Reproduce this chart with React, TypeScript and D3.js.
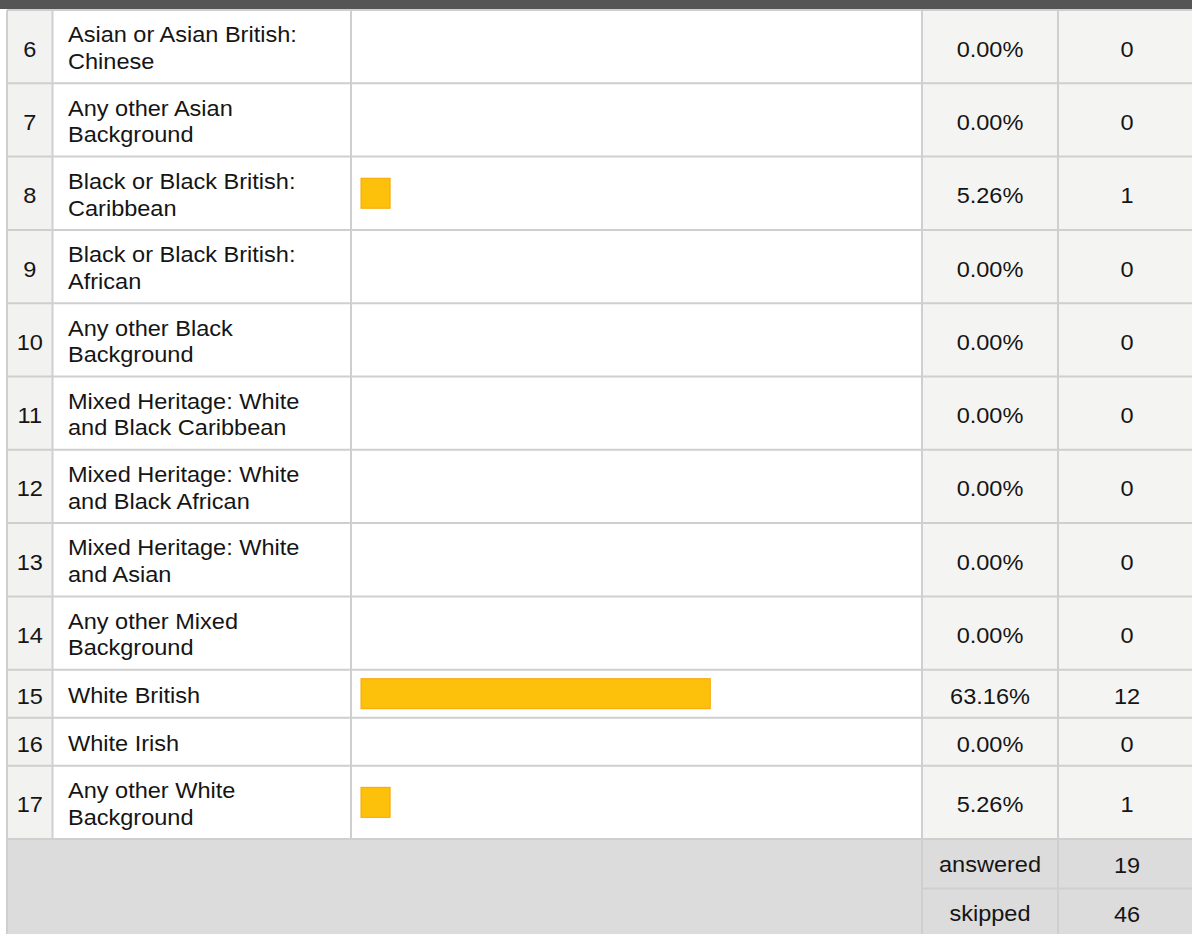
import React from "react";
import * as d3 from "d3";

const rowNumbers = [6, 7, 8, 9, 10, 11, 12, 13, 14, 15, 16, 17];
const labels = [
  ["Asian or Asian British:", "Chinese"],
  ["Any other Asian", "Background"],
  ["Black or Black British:", "Caribbean"],
  ["Black or Black British:", "African"],
  ["Any other Black", "Background"],
  ["Mixed Heritage: White", "and Black Caribbean"],
  ["Mixed Heritage: White", "and Black African"],
  ["Mixed Heritage: White", "and Asian"],
  ["Any other Mixed", "Background"],
  ["White British"],
  ["White Irish"],
  ["Any other White", "Background"],
];
const percents = [0, 0, 5.26, 0, 0, 0, 0, 0, 0, 63.16, 0, 5.26];
const counts = [0, 0, 1, 0, 0, 0, 0, 0, 0, 12, 0, 1];
const footerLabels = ["answered", "skipped"];
const footerValues = [19, 46];

const W = 1192;
const H = 934;
const colX = [7, 52.5, 351, 922, 1058, 1197];
const TOP = 10;
const FONT = "'Liberation Sans', Arial, Helvetica, sans-serif";
const SX = 1.07;
const FS = 22;
const GRID = "#cfcfcf";
const TEXT = "#151515";

export default function App() {
  const heights = labels.map((l) => (l.length > 1 ? 73.3 : 48));
  const tops: number[] = [];
  let acc = TOP;
  heights.forEach((h) => {
    tops.push(acc);
    acc += h;
  });
  const tableBottom = acc;
  const footH = 49.5;

  const x = d3.scaleLinear().domain([0, 100]).range([colX[2] + 10, colX[3] - 8]);
  const fmt = d3.format(".2f");

  const T = (
    tx: number,
    ty: number,
    s: string,
    anchor: "start" | "middle" = "middle",
    key?: string
  ) => (
    <text
      key={key}
      transform={`translate(${tx},${ty}) scale(${SX},1)`}
      textAnchor={anchor}
      fontFamily={FONT}
      fontSize={FS}
      fill={TEXT}
    >
      {s}
    </text>
  );

  return (
    <svg
      width={W}
      height={H}
      style={{ position: "absolute", left: 0, top: 0, display: "block" }}
    >
      <rect x={0} y={0} width={W} height={H} fill="#ffffff" />
      {/* column backgrounds */}
      <rect x={colX[0]} y={TOP} width={colX[1] - colX[0]} height={tableBottom - TOP} fill="#f2f2f0" />
      <rect x={colX[3]} y={TOP} width={W - colX[3]} height={tableBottom - TOP} fill="#f4f4f2" />
      {/* footer */}
      <rect x={colX[0]} y={tableBottom} width={W - colX[0]} height={H - tableBottom} fill="#dcdcdc" />
      {/* header dark band */}
      <rect x={0} y={0} width={W} height={9} fill="#555555" />
      <line x1={colX[0]} x2={W} y1={TOP} y2={TOP} stroke={GRID} strokeWidth={2} />

      {/* rows */}
      {rowNumbers.map((n, i) => {
        const y0 = tops[i];
        const h = heights[i];
        const cy = y0 + h / 2;
        const lines = labels[i];
        const lh = 26.6;
        return (
          <g key={n}>
            {T((colX[0] + colX[1]) / 2, cy + 10, String(n), "middle")}
            {lines.map((s, j) =>
              T(colX[1] + 15.5, cy + 9 + (j - (lines.length - 1) / 2) * lh, s, "start", `l${j}`)
            )}
            {percents[i] > 0 && (
              <rect
                x={x(0)}
                y={cy - 15}
                width={x(percents[i]) - x(0)}
                height={30}
                fill="#fec10b"
                stroke="#f7a600"
                strokeWidth={1}
              />
            )}
            {T((colX[3] + colX[4]) / 2, cy + 10, fmt(percents[i]) + "%", "middle")}
            {T(1127, cy + 10, String(counts[i]), "middle")}
            <line x1={colX[0]} x2={W} y1={y0 + h} y2={y0 + h} stroke={GRID} strokeWidth={2} />
          </g>
        );
      })}

      {/* footer rows */}
      {footerLabels.map((s, i) => {
        const y0 = tableBottom + i * footH;
        const cy = y0 + footH / 2;
        return (
          <g key={s}>
            {T((colX[3] + colX[4]) / 2, cy + 8, s, "middle")}
            {T(1127, cy + 9, String(footerValues[i]), "middle")}
            {i === 0 && (
              <line x1={colX[3]} x2={W} y1={y0 + footH} y2={y0 + footH} stroke={GRID} strokeWidth={2} />
            )}
          </g>
        );
      })}

      {/* vertical grid lines */}
      <line x1={colX[0]} x2={colX[0]} y1={TOP} y2={H} stroke={GRID} strokeWidth={2} />
      {[colX[1], colX[2]].map((cx) => (
        <line key={cx} x1={cx} x2={cx} y1={TOP} y2={tableBottom} stroke={GRID} strokeWidth={2} />
      ))}
      {[colX[3], colX[4]].map((cx) => (
        <line key={cx} x1={cx} x2={cx} y1={TOP} y2={H} stroke={GRID} strokeWidth={2} />
      ))}
    </svg>
  );
}
